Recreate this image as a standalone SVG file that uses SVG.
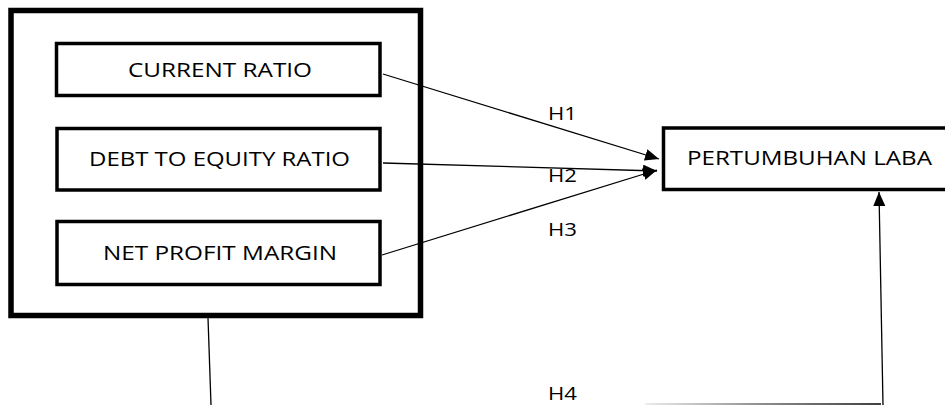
<svg xmlns="http://www.w3.org/2000/svg" width="945" height="405" viewBox="0 0 945 405">
  <style>
    .box { fill: #ffffff; stroke: #000000; stroke-width: 3.5; }
    .frame { fill: none; stroke: #000000; stroke-width: 5.5; }
    .label { font-family: "Open Sans", "Liberation Sans", sans-serif; font-size: 20px; fill: #000000; }
    .hyp { font-family: "Open Sans", "Liberation Sans", sans-serif; font-size: 18px; fill: #000000; }
    .link { fill: none; stroke: #000000; stroke-width: 1.3; }
  </style>
  <defs>
    <marker id="arrow" viewBox="0 0 14 12" refX="14" refY="6" markerWidth="14" markerHeight="12" markerUnits="userSpaceOnUse" orient="auto">
      <path d="M0,0 L14,6 L0,12 Z" fill="#000000"/>
    </marker>
    <linearGradient id="fadeIn" gradientUnits="userSpaceOnUse" x1="645" y1="0" x2="881" y2="0">
      <stop offset="0" stop-color="#000000" stop-opacity="0.1"/>
      <stop offset="0.5" stop-color="#000000" stop-opacity="0.6"/>
      <stop offset="1" stop-color="#000000" stop-opacity="1"/>
    </linearGradient>
    <clipPath id="h2clip">
      <rect x="540" y="167.5" width="50" height="20"/>
    </clipPath>
  </defs>

  <!-- independent variables enclosed in one frame -->
  <g id="independent-frame">
    <rect class="frame" x="11" y="10.5" width="409.5" height="305"/>
  </g>

  <g id="current-ratio">
    <rect class="box" x="56.5" y="43.5" width="323.5" height="52"/>
    <text class="label" x="128" y="77" textLength="184" lengthAdjust="spacingAndGlyphs">CURRENT RATIO</text>
  </g>

  <g id="debt-to-equity">
    <rect class="box" x="57" y="128.5" width="323" height="61.5"/>
    <text class="label" x="89" y="166" textLength="261" lengthAdjust="spacingAndGlyphs">DEBT TO EQUITY RATIO</text>
  </g>

  <g id="net-profit-margin">
    <rect class="box" x="57" y="221.5" width="323" height="63"/>
    <text class="label" x="103" y="260" textLength="234" lengthAdjust="spacingAndGlyphs">NET PROFIT MARGIN</text>
  </g>

  <!-- dependent variable -->
  <g id="pertumbuhan-laba">
    <rect class="box" x="663.5" y="128" width="300" height="61.5"/>
    <text class="label" x="687" y="165" textLength="245" lengthAdjust="spacingAndGlyphs">PERTUMBUHAN LABA</text>
  </g>

  <!-- hypothesis labels -->
  <g id="hypotheses">
    <text class="hyp" x="548" y="120" textLength="29" lengthAdjust="spacingAndGlyphs">H1</text>
    <text class="hyp" x="548" y="182" textLength="29" lengthAdjust="spacingAndGlyphs" clip-path="url(#h2clip)">H2</text>
    <text class="hyp" x="548" y="236" textLength="29" lengthAdjust="spacingAndGlyphs">H3</text>
    <text class="hyp" x="548" y="400" textLength="29" lengthAdjust="spacingAndGlyphs">H4</text>
  </g>

  <g id="connectors">
    <line class="link" x1="383" y1="74" x2="659" y2="159" marker-end="url(#arrow)"/>
    <line class="link" x1="383" y1="163" x2="657" y2="171" marker-end="url(#arrow)"/>
    <line class="link" x1="382" y1="255" x2="657" y2="170" marker-end="url(#arrow)"/>
    <!-- simultaneous path H4 -->
    <line class="link" x1="208" y1="318" x2="211" y2="405"/>
    <line x1="645" y1="404" x2="881" y2="404" stroke="url(#fadeIn)" stroke-width="1.6"/>
    <line class="link" x1="883" y1="405" x2="879" y2="192" marker-end="url(#arrow)"/>
  </g>
</svg>
